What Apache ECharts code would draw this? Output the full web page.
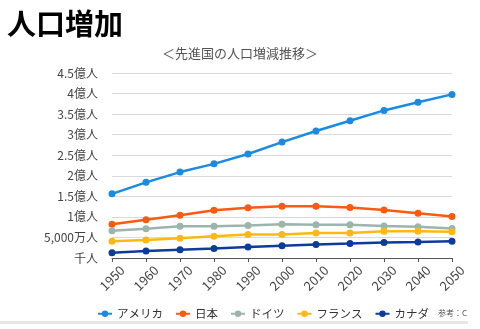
<!DOCTYPE html>
<html><head><meta charset="utf-8">
<script src="https://cdn.jsdelivr.net/npm/echarts@6/dist/echarts.min.js"></script>
<style>html,body{margin:0;padding:0;background:#fff}#c{width:480px;height:329px}</style>
</head><body><div id="c"></div>
<script>
var years = ['1950','1960','1970','1980','1990','2000','2010','2020','2030','2040','2050'];
var yTickLabels = ['千人','5,000万人','1億人','1.5億人','2億人','2.5億人','3億人','3.5億人','4億人','4.5億人'];
// values in 億人
var america = [1.56, 1.84, 2.09, 2.29, 2.53, 2.82, 3.09, 3.34, 3.59, 3.79, 3.98];
var japan   = [0.82, 0.93, 1.04, 1.16, 1.22, 1.26, 1.26, 1.23, 1.17, 1.09, 1.01];
var germany = [0.66, 0.71, 0.77, 0.77, 0.79, 0.82, 0.81, 0.81, 0.78, 0.76, 0.72];
var france  = [0.41, 0.44, 0.48, 0.53, 0.57, 0.57, 0.61, 0.61, 0.65, 0.65, 0.64];
var canada  = [0.13, 0.17, 0.20, 0.23, 0.27, 0.30, 0.33, 0.35, 0.38, 0.39, 0.41];
var names = ['アメリカ','日本','ドイツ','フランス','カナダ'];
var colors = ['#1a8be0','#fa5a12','#9bb5ad','#fdb813','#0d3b9c'];
var dataList = [america, japan, germany, france, canada];

var font = '"Noto Sans CJK JP", "Noto Sans", sans-serif';
var chart = echarts.init(document.getElementById('c'));
chart.setOption({
  animation: false,
  textStyle: {fontFamily: font},
  title: [
    {text: '人口増加', left: 2, top: 4, textStyle: {fontSize: 29, fontWeight: 'bold', color: '#000', fontFamily: font}},
    {text: '＜先進国の人口増減推移＞', left: 'center', top: 42, textStyle: {fontSize: 13, fontWeight: 'normal', color: '#555', fontFamily: font}}
  ],
  grid: {left: 112, right: 28, top: 73, bottom: 71},
  legend: {
    left: 92, top: 303, itemGap: 12, itemWidth: 14, itemHeight: 8,
    textStyle: {fontSize: 11.5, color: '#333', fontFamily: font},
    data: names
  },
  xAxis: {
    type: 'category', data: years, boundaryGap: false,
    axisLine: {lineStyle: {color: '#555'}},
    axisTick: {show: true, alignWithLabel: true, length: 4, lineStyle: {color: '#555'}},
    axisLabel: {rotate: 45, fontSize: 13, color: '#444', margin: 20, align: 'center', verticalAlign: 'middle'}
  },
  yAxis: {
    type: 'value', min: 0, max: 4.5, interval: 0.5,
    axisLine: {show: false}, axisTick: {show: false},
    splitLine: {lineStyle: {color: '#d9d9d9'}},
    axisLabel: {
      fontSize: 12, color: '#444', margin: 14,
      formatter: function (v) { return yTickLabels[Math.round(v * 2)]; }
    }
  },
  series: dataList.map(function (d, i) {
    return {
      name: names[i], type: 'line', data: d,
      symbol: 'circle', symbolSize: 7,
      lineStyle: {width: 2.5, color: colors[i]},
      itemStyle: {color: colors[i]}
    };
  }),
  graphic: [
    {type: 'text', left: 438, top: 309, style: {text: '参考：C', fontSize: 8, fill: '#555', fontFamily: font}},
    {type: 'rect', shape: {x: 0, y: 321, width: 468, height: 3}, style: {fill: '#e6e6e6'}}
  ]
});
</script></body></html>
